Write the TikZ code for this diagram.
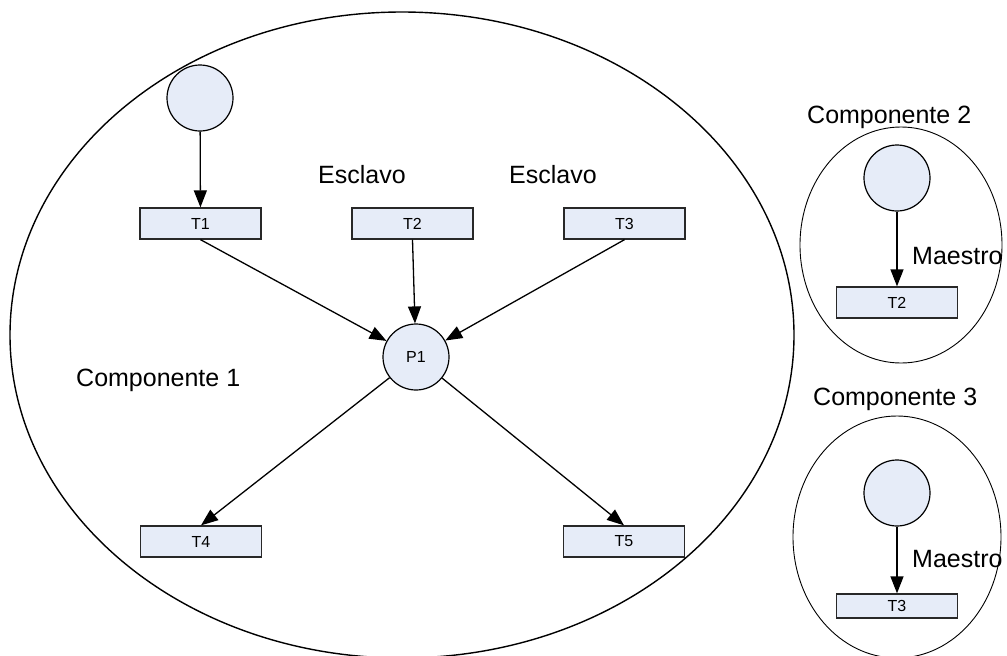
\documentclass[tikz,border=0pt]{standalone}
\usepackage{fontspec}
\setmainfont{Liberation Sans}
\usetikzlibrary{arrows.meta}
\definecolor{placefill}{RGB}{230,236,248}
\definecolor{boxline}{RGB}{40,40,40}
\tikzset{
  place/.style={circle, draw=black, line width=1.2pt, fill=placefill,
    minimum size=66pt, inner sep=0pt, font=\fontsize{16}{19}\selectfont},
  trans/.style={rectangle, draw=boxline, line width=1.3pt, fill=placefill,
    minimum width=121pt, minimum height=31pt, inner sep=0pt,
    font=\fontsize{16}{19}\selectfont},
  flow/.style={line width=1.3pt, -{Triangle[length=17pt,width=13pt]}},
  biglabel/.style={anchor=base west, inner sep=0pt, font=\fontsize{25}{30}\selectfont},
  region/.style={draw=black, line width=1pt}
}
\begin{document}
\begin{tikzpicture}[x=1pt,y=-1pt]
\useasboundingbox (0,0) rectangle (1007,656);

% component boundaries
\draw[region, line width=1.4pt] (402,335) ellipse [x radius=392pt, y radius=323pt];
\draw[region, line width=0.9pt] (901,245) ellipse [x radius=101pt, y radius=118pt];
\draw[region, line width=0.9pt] (897,537) ellipse [x radius=104pt, y radius=121pt];

% component 1
\node[place] (s1) at (200,98) {};
\node[trans] (t1) at (200.5,223.5) {T1};
\node[trans] (t2) at (412.5,223.5) {T2};
\node[trans] (t3) at (624.5,223.5) {T3};
\node[place] (p1) at (416,357) {P1};
\node[trans] (t4) at (201,541.5) {T4};
\node[trans] (t5) at (624,541.5) {T5};

\draw[flow] (s1) -- (t1);
\draw[flow] (t1.south) -- (p1);
\draw[flow] (t2.south) -- (p1);
\draw[flow] (t3.south) -- (p1);
\draw[flow] (p1) -- (t4.north);
\draw[flow] (p1) -- (t5.north);

\node[biglabel] (lesc1) at (318,183) {Esclavo};
\node[biglabel] (lesc2) at (509,183) {Esclavo};
\node[biglabel] (lc1) at (76,386) {Componente 1};

% component 2
\node[biglabel] (lc2) at (807,123) {Componente 2};
\node[place] (s2) at (897,178) {};
\node[trans] (u2) at (897,302.5) {T2};
\draw[flow] (s2) -- (u2);
\node[biglabel] (lm2) at (912,264) {Maestro};

% component 3
\node[biglabel] (lc3) at (813,405) {Componente 3};
\node[place] (s3) at (897,493) {};
\node[trans, minimum height=24pt] (u3) at (897,606) {T3};
\draw[flow] (s3) -- (u3);
\node[biglabel] (lm3) at (912,567) {Maestro};
\end{tikzpicture}
\end{document}
